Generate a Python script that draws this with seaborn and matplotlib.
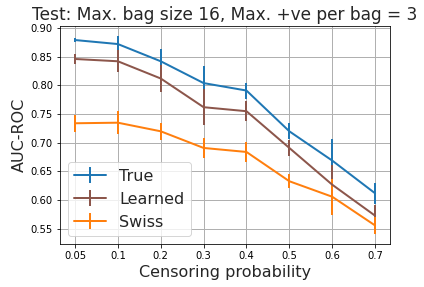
import matplotlib
matplotlib.use("Agg")
import matplotlib.pyplot as plt
import seaborn as sb
import numpy as np

# Valeurs
censoring = ["0.05", "0.1", "0.2", "0.3", "0.4", "0.5", "0.6", "0.7"]

true_auc = [0.879, 0.872, 0.842, 0.804, 0.791, 0.720, 0.669, 0.612]
true_err = [0.004, 0.014, 0.021, 0.029, 0.014, 0.014, 0.037, 0.018]

learned_auc = [0.846, 0.842, 0.812, 0.762, 0.755, 0.691, 0.627, 0.573]
learned_err = [0.008, 0.019, 0.023, 0.031, 0.017, 0.014, 0.034, 0.018]

swiss_auc = [0.734, 0.735, 0.720, 0.691, 0.684, 0.633, 0.606, 0.556]
swiss_err = [0.015, 0.020, 0.015, 0.018, 0.018, 0.012, 0.031, 0.015]

sb.set_style("ticks")
plt.rcParams["font.family"] = ["DejaVu Sans"]

fig, ax = plt.subplots(figsize=(424 / 72, 287 / 72), dpi=72)
fig.subplots_adjust(left=0.1415, right=0.92, top=0.909, bottom=0.15)

x = np.arange(len(censoring))
ax.errorbar(x, true_auc, yerr=true_err, color="#1f77b4", lw=2, label="True")
ax.errorbar(x, learned_auc, yerr=learned_err, color="#8c564b", lw=2, label="Learned")
ax.errorbar(x, swiss_auc, yerr=swiss_err, color="#ff7f0e", lw=2, label="Swiss")

ax.set_xticks(x)
ax.set_xticklabels(censoring)
ax.set_yticks(np.arange(0.55, 0.901, 0.05))
ax.yaxis.set_major_formatter(matplotlib.ticker.FormatStrFormatter("%.2f"))
ax.tick_params(labelsize=10, colors="black")
ax.grid(True, color="#b0b0b0", lw=1)
for s in ax.spines.values():
    s.set_color("black")

ax.set_title("Test: Max. bag size 16, Max. +ve per bag = 3", fontsize=17)
ax.set_xlabel("Censoring probability", fontsize=16)
ax.set_ylabel("AUC-ROC", fontsize=16)
ax.legend(loc="lower left", fontsize=16)

fig.savefig("out.png", dpi=72)
